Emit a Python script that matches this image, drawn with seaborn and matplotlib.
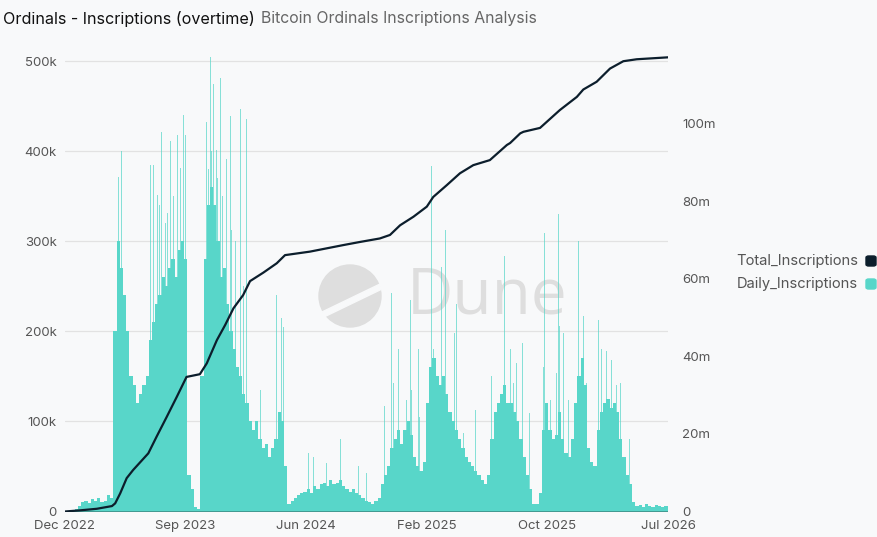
import numpy as np
import pandas as pd
import matplotlib
matplotlib.use("Agg")
import matplotlib.pyplot as plt
from matplotlib.patches import FancyBboxPatch, Circle, Polygon
import seaborn as sns

# 데이터
# 주간 일평균 신규 인스크립션 (천 건), 2022-12 첫 주부터 187주
weekly_k = [
    0, 0.5, 1, 3,
    6, 10, 12, 9, 14, 12, 15, 10, 12, 18, 15,
    200, 300, 270, 240, 200, 150,
    140, 120, 130, 140, 150, 190, 210, 230, 240, 260, 250, 270, 280, 260, 290, 300, 280,
    40, 25, 5, 3,
    150, 280, 340, 360, 340, 300, 260, 270, 230, 200, 180, 160, 150, 130, 120, 100, 90,
    100, 80, 70, 75, 60, 70, 80, 110, 100, 50,
    8, 12, 15, 18, 20, 22, 25, 20, 28, 25, 30, 32, 28, 35, 30, 32, 35, 28, 25, 22,
    25, 20, 18, 15, 12, 10, 8, 12, 15,
    30, 40, 50,
    70, 80, 90, 75,
    90, 100, 85,
    60, 50, 45, 55,
    120, 160, 170, 150,
    140, 150, 130,
    110, 100, 90, 80,
    70, 60, 55, 50, 45, 40,
    35, 30, 40,
    80, 110, 120,
    130, 140, 120,
    120, 110, 100,
    80, 60,
    40, 25,
    8, 8, 20,
    90, 120,
    90, 80, 85,
    110,
    80, 65, 60, 80,
    120, 150, 170, 140,
    70, 55, 50,
    90, 110, 120, 125, 115, 120, 110,
    80, 60, 40, 30,
    10,
    6, 7, 5, 8, 6, 5, 7, 6, 5, 6,
]

# 하루짜리 급등 (일 번호, 천 건)
spike_day = [87, 116, 122, 128, 163, 186, 191, 193, 201, 206, 209, 215, 219, 223, 230,
             235, 241, 244, 251, 254, 257, 261, 263, 302, 308, 311, 316, 319, 323, 330,
             332, 337, 343, 351, 354, 359, 362, 371, 380, 382, 387, 395, 424, 460, 471,
             474, 529, 539, 569, 599, 637, 655, 695, 710, 713, 724, 742, 750, 753, 768,
             771, 782, 797, 801, 808, 818, 826, 832, 847, 851, 865, 891, 927, 934, 945,
             954, 967, 974, 981, 994, 1010, 1039, 1041, 1054, 1067, 1072, 1075, 1083,
             1093, 1115, 1119, 1126, 1133, 1159, 1166, 1177, 1188, 1199, 1206, 1227]
spike_k = [76, 372, 400, 372, 205, 385, 330, 385, 352, 340, 421, 408, 320, 331, 411,
           350, 330, 418, 381, 360, 440, 418, 300, 300, 433, 380, 505, 400, 475, 401,
           370, 482, 350, 391, 330, 439, 313, 300, 477, 447, 250, 436, 135, 240, 215,
           205, 65, 61, 54, 81, 50, 43, 117, 243, 143, 180, 124, 235, 135, 180,
           105, 226, 384, 180, 217, 272, 313, 187, 198, 231, 87, 113, 150, 273, 161,
           284, 180, 143, 165, 187, 109, 161, 309, 124, 154, 330, 206, 198,
           124, 300, 252, 217, 143, 213, 180, 178, 168, 141, 143, 81]

# 누적 인스크립션 (일 번호, 백만 건)
total_day = [0, 33, 69, 102, 109, 120, 134, 148, 181, 199, 221, 243, 264, 293, 308, 330,
             348, 366, 387, 402, 431, 460, 478, 532, 605, 641, 684, 706, 728, 757, 786,
             800, 829, 858, 887, 923, 960, 967, 989, 996, 1032, 1075, 1112, 1126, 1155,
             1184, 1213, 1242, 1310]
total_m = [0.0, 0.3, 0.7, 1.4, 2.1, 4.7, 8.6, 10.7, 15.0, 19.3, 24.4, 29.6, 34.7, 35.4,
           38.2, 44.2, 48.1, 52.4, 55.8, 59.4, 61.6, 64.0, 66.1, 67.0, 68.7, 69.5, 70.4,
           71.3, 73.8, 76.0, 78.6, 81.1, 84.1, 87.2, 89.3, 90.6, 94.5, 95.0, 97.5, 97.9,
           98.9, 103.5, 106.9, 108.8, 110.8, 114.2, 116.1, 116.6, 117.1]

x_tick_labels = ["Dec 2022", "Sep 2023", "Jun 2024", "Feb 2025", "Oct 2025", "Jul 2026"]

df_week = pd.DataFrame({"day": np.arange(len(weekly_k)) * 7, "daily": np.array(weekly_k) * 1000})
df_spike = pd.DataFrame({"day": spike_day, "daily": np.array(spike_k) * 1000})
df_total = pd.DataFrame({"day": total_day, "total": np.array(total_m) * 1e6})

# 스타일
sns.set_theme(style="white")
plt.rcParams["font.family"] = ["Inter", "DejaVu Sans"]

bg = "#f8f9fa"
teal = "#58d6c9"
navy = "#0c1e2c"
tick_col = "#555555"

fig = plt.figure(figsize=(8.77, 5.37), dpi=100, facecolor=bg)

# 워터마크 (Dune)
wm = fig.add_axes([0, 0, 1, 1], zorder=0)
wm.set_xlim(0, 877)
wm.set_ylim(537, 0)
wm.set_aspect("equal")
wm.axis("off")
wm.add_patch(Circle((350, 296), 31, color="#dedede"))
wm.add_patch(Polygon([[322, 312], [380, 284], [382, 289], [324, 317]], color=bg))
wm.text(407, 297, "Dune", fontsize=46, color="#dedede", va="center", ha="left",
        family=["Open Sans", "DejaVu Sans"])

ax = fig.add_axes([65 / 877, 1 - 511.5 / 537, 603 / 877, 456.5 / 537], zorder=1)
ax.set_facecolor("none")
ax.bar(df_week["day"], df_week["daily"], width=7, align="edge", color=teal,
       linewidth=0, zorder=2)
ax.bar(df_spike["day"], df_spike["daily"], width=1.8, align="center", color=teal,
       alpha=0.7, linewidth=0, zorder=2)

ax.set_xlim(0, 1310)
ax.set_ylim(0, 507000)
ax.set_yticks([0, 100000, 200000, 300000, 400000, 500000])
ax.set_yticklabels(["0", "100k", "200k", "300k", "400k", "500k"])
ax.set_xticks(np.linspace(0, 1310, 6))
ax.set_xticklabels(x_tick_labels)
ax.grid(axis="y", color="#e2e2e2", linewidth=0.9, zorder=0)
ax.set_axisbelow(True)
ax.axhline(0, color="#3f8f88", linewidth=1.2, zorder=3)
ax.tick_params(axis="both", length=0, labelsize=9.5, labelcolor=tick_col, pad=6)
ax.set_xlabel("")
ax.set_ylabel("")
for s in ax.spines.values():
    s.set_visible(False)

ax2 = ax.twinx()
sns.lineplot(data=df_total, x="day", y="total", ax=ax2, color=navy, linewidth=1.6,
             zorder=4)
ax2.set_ylim(0, 117.7e6)
ax2.set_yticks([0, 20e6, 40e6, 60e6, 80e6, 100e6])
ax2.set_yticklabels(["0", "20m", "40m", "60m", "80m", "100m"])
ax2.tick_params(axis="y", length=0, labelsize=9.5, labelcolor=tick_col, pad=10)
ax2.set_xlabel("")
ax2.set_ylabel("")
ax2.grid(False)
for s in ax2.spines.values():
    s.set_visible(False)

# 제목
fig.text(3 / 877, 1 - 19 / 537, "Ordinals - Inscriptions (overtime)", fontsize=11.6,
         color="#111111", va="center", ha="left")
fig.text(261 / 877, 1 - 19 / 537, "Bitcoin Ordinals Inscriptions Analysis", fontsize=11.4,
         color="#666666", va="center", ha="left")

# 범례
for label, col, ypx in [("Total_Inscriptions", navy, 261), ("Daily_Inscriptions", teal, 284)]:
    fig.text(858 / 877, 1 - ypx / 537, label, fontsize=10.6, color="#555555",
             va="center", ha="right")
    fig.patches.append(FancyBboxPatch((866 / 877, 1 - (ypx + 5) / 537), 10 / 877, 10 / 537,
                                      boxstyle="round,pad=0,rounding_size=0.003",
                                      transform=fig.transFigure, color=col, figure=fig))

fig.savefig("out.png", dpi=100, facecolor=bg)
